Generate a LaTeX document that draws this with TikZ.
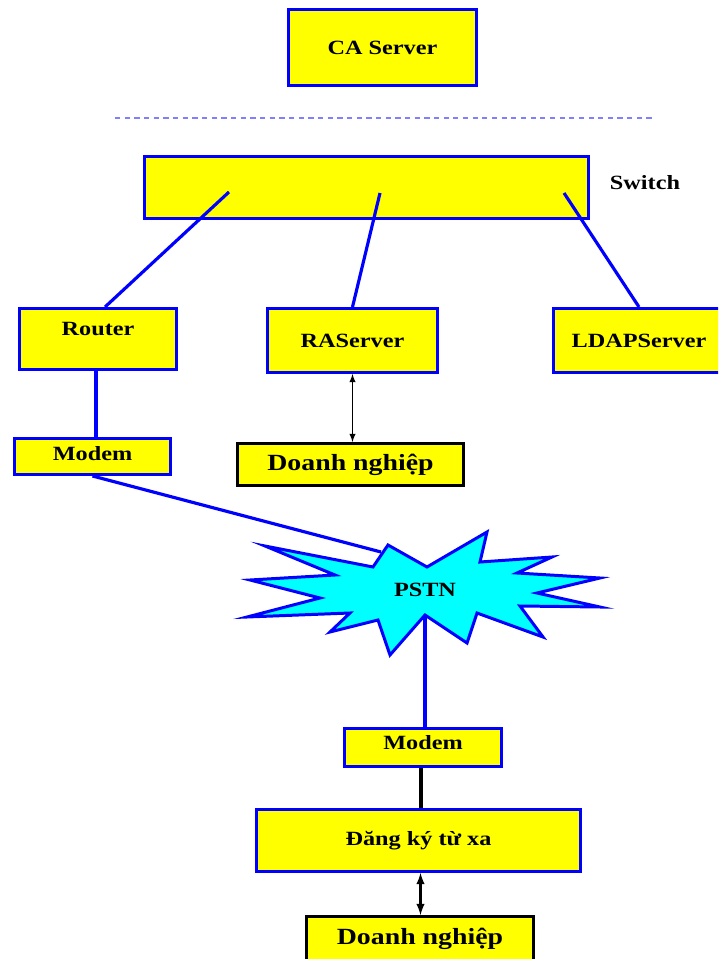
\documentclass[tikz,border=0pt]{standalone}
\usepackage{fontspec}
\setmainfont{Liberation Serif}[FakeStretch=1.2]
\usetikzlibrary{positioning, calc}
\definecolor{netyellow}{HTML}{FFFF00}
\definecolor{netblue}{HTML}{0000FF}
\definecolor{netcyan}{HTML}{00FFFF}
\definecolor{dashblue}{HTML}{8080FF}

\begin{document}
\begin{tikzpicture}[
    x=0.02cm, y=-0.02cm,
    device/.style={
        rectangle,
        fill=netyellow,
        draw=netblue,
        line width=1.7pt,
        inner sep=0pt,
        font=\bfseries\fontsize{11.5}{13}\selectfont
    },
    company/.style={
        device,
        draw=black,
        font=\bfseries\fontsize{13.2}{15}\selectfont
    },
    link/.style={netblue, line width=1.8pt}
]

% --- CANVAS ---
\useasboundingbox (0,0) rectangle (718,959);
\clip (0,0) rectangle (718,959);

% --- CA SIDE ---
\node[device, minimum width=3.76cm, minimum height=1.52cm] (ca) at (382.5,47.5) {CA Server};
\draw[dashblue, line width=1.2pt, dash pattern=on 3pt off 2.5pt] (115,118) -- (655,118);

% --- SWITCH ROW ---
\node[device, minimum width=8.88cm, minimum height=1.24cm] (switch) at (366.5,187.5) {};
\node[font=\bfseries\fontsize{11.5}{13}\selectfont] (switchlabel) at (645,183) {Switch};
\coordinate (swleft) at (229,192);
\coordinate (swmid) at (380,193);
\coordinate (swright) at (564,193);

% --- SERVERS ---
\node[device, minimum width=3.14cm, minimum height=1.22cm, text depth=0.4cm] (router) at (98,339) {Router};
\node[device, minimum width=3.4cm, minimum height=1.28cm] (raserver) at (352.5,340.5) {RAServer};
\node[device, minimum width=3.42cm, minimum height=1.28cm] (ldapserver) at (639,340.5) {LDAPServer};
\node[device, minimum width=3.12cm, minimum height=0.72cm, text depth=0.12cm] (modemA) at (92.5,456.5) {Modem};
\node[company, minimum width=4.52cm, minimum height=0.84cm] (companyA) at (350.5,464.5) {Doanh nghiệp};

% --- PSTN ---
\draw[netblue, fill=netcyan, line width=1.7pt, line join=miter]
    (388,545) -- (427,567) -- (487,532) -- (480,562) -- (552,557) -- (517,573)
    -- (600,578) -- (537,593) -- (600,607) -- (520,606) -- (543,637) -- (477,613)
    -- (467,643) -- (425,615) -- (390,655) -- (378,620) -- (330,632) -- (350,613)
    -- (247,617) -- (320,598) -- (250,580) -- (335,575) -- (265,546) -- (373,567)
    -- cycle;
\node[font=\bfseries\fontsize{11.5}{13}\selectfont] (pstn) at (425,590) {PSTN};
\coordinate (pstnin) at (381,552);
\coordinate (pstnout) at (425,615);

% --- REMOTE SIDE ---
\node[device, minimum width=3.14cm, minimum height=0.76cm, text depth=0.2cm] (modemB) at (423,747.5) {Modem};
\node[device, minimum width=6.48cm, minimum height=1.24cm] (remote) at (418.5,840.5) {Đăng ký từ xa};
\node[company, minimum width=4.54cm, minimum height=0.88cm] (companyB) at (420,938.5) {Doanh nghiệp};

% --- LINKS ---
\draw[link] (swleft) -- ([xshift=0.14cm]router.north);
\draw[link] (swmid) -- (raserver.north);
\draw[link] (swright) -- (ldapserver.north);
\draw[link] ([xshift=-0.04cm]router.south) -- ([xshift=-0.04cm]router.south |- modemA.north);
\draw[link] (modemA.south) -- (pstnin);
\draw[link] (pstnout) -- (pstnout |- modemB.north);
\draw[black, line width=1.8pt] ([xshift=-0.04cm]modemB.south) -- ([xshift=-0.04cm]modemB.south |- remote.north);

% --- ARROWS ---
\begin{scope}[black, >=latex]
    \draw[<->, line width=0.6pt] (raserver.south) -- (raserver.south |- companyA.north);
    \draw[<->, line width=1.2pt] ([xshift=0.04cm]remote.south) -- ([xshift=0.04cm]remote.south |- companyB.north);
\end{scope}

\end{tikzpicture}
\end{document}
